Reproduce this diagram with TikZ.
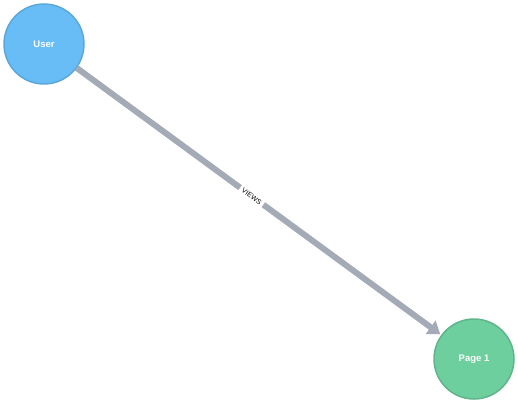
\documentclass[tikz,border=0pt]{standalone}
\usepackage{fontspec}
\setmainfont{Liberation Sans}
\usetikzlibrary{arrows.meta}
\definecolor{userfill}{HTML}{68BDF6}
\definecolor{userdraw}{HTML}{5CA8DB}
\definecolor{pagefill}{HTML}{6DCE9E}
\definecolor{pagedraw}{HTML}{60B58B}
\definecolor{edgecol}{HTML}{A5ABB6}
\tikzset{
  gnode/.style={circle, minimum size=80pt, inner sep=0pt, line width=1.5pt, text=white, font=\fontsize{9.5}{11}\selectfont\bfseries},
  usernode/.style={gnode, fill=userfill, draw=userdraw},
  pagenode/.style={gnode, fill=pagefill, draw=pagedraw},
  rel/.style={draw=edgecol, line width=6pt, -{Triangle[length=12pt,width=16pt]}, shorten >=1pt},
  rellabel/.style={fill=white, font=\fontsize{7}{8}\selectfont, sloped, inner xsep=3pt, inner ysep=2pt, text=black}
}
\begin{document}
\begin{tikzpicture}[x=1pt,y=-1pt]
\useasboundingbox (0,0) rectangle (518,403);
\node[usernode] (user) at (44,44) {User};
\node[pagenode] (page) at (474,359) {Page 1};
\draw[rel] (user) -- node[rellabel, pos=0.48] {VIEWS} (page);
\end{tikzpicture}
\end{document}
